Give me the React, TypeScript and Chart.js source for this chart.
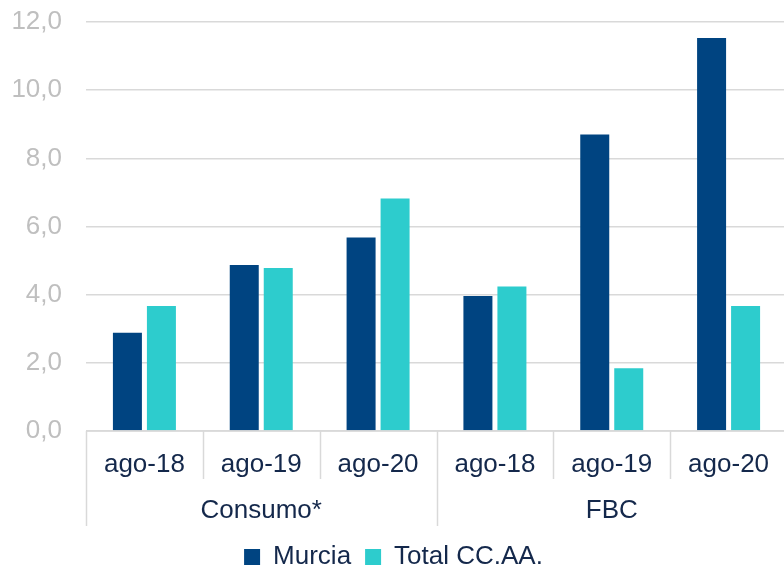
import React, { useEffect, useRef } from "react";
import { Chart, registerables } from "chart.js";

Chart.register(...registerables);

const categories = ["ago-18", "ago-19", "ago-20", "ago-18", "ago-19", "ago-20"];
const groups = ["Consumo*", "FBC"];
const groupSize = 3;
const murcia = [2.88, 4.87, 5.68, 3.96, 8.7, 11.53];
const totalCCAA = [3.67, 4.78, 6.82, 4.24, 1.84, 3.67];
const yTicks = [0, 2, 4, 6, 8, 10, 12];

const FONT = "'Liberation Sans', Arial, sans-serif";
const NAVY = "#14284b";
const GRID = "#d9d9d9";

const groupPlugin = {
  id: "groupAxis",
  afterDatasetsDraw(chart: any) {
    const { ctx, chartArea, scales } = chart;
    const x = scales.x;
    const y = scales.y;
    ctx.save();
    ctx.strokeStyle = GRID;
    ctx.lineWidth = 1.5;
    const y0 = y.getPixelForValue(0);
    ctx.beginPath();
    ctx.moveTo(chartArea.left, y0);
    ctx.lineTo(chartArea.right, y0);
    ctx.stroke();

    const step = x.getPixelForValue(1) - x.getPixelForValue(0);
    const start = x.getPixelForValue(0) - step / 2;
    for (let k = 0; k <= categories.length; k++) {
      const px = Math.round(start + k * step) + 0.5;
      const long = k % groupSize === 0;
      ctx.beginPath();
      ctx.moveTo(px, y0);
      ctx.lineTo(px, y0 + (long ? 95 : 48));
      ctx.stroke();
    }

    ctx.fillStyle = NAVY;
    ctx.font = `26px ${FONT}`;
    ctx.textAlign = "center";
    ctx.textBaseline = "middle";
    groups.forEach((g, i) => {
      const cx = start + (i * groupSize + groupSize / 2) * step;
      ctx.fillText(g, cx, y0 + 80);
    });
    ctx.restore();
  },
};

export default function App() {
  const ref = useRef<HTMLCanvasElement | null>(null);

  useEffect(() => {
    if (!ref.current) return;
    const chart = new Chart(ref.current, {
      type: "bar",
      data: {
        labels: categories,
        datasets: [
          {
            label: "Murcia",
            data: murcia,
            backgroundColor: "#004481",
            categoryPercentage: 0.582,
            barPercentage: 0.853,
          },
          {
            label: "Total CC.AA.",
            data: totalCCAA,
            backgroundColor: "#2dcccd",
            categoryPercentage: 0.582,
            barPercentage: 0.853,
          },
        ],
      },
      options: {
        animation: false,
        responsive: false,
        maintainAspectRatio: false,
        layout: { padding: { top: 22, right: 3, left: 0, bottom: -12 } },
        plugins: {
          tooltip: { enabled: false },
          legend: {
            position: "bottom",
            labels: {
              boxWidth: 16,
              boxHeight: 16,
              padding: 14,
              color: NAVY,
              font: { family: FONT, size: 26 },
            },
          },
        },
        scales: {
          x: {
            grid: { display: false, drawTicks: false },
            border: { display: false },
            ticks: {
              color: NAVY,
              font: { family: FONT, size: 26 },
              padding: 18,
              maxRotation: 0,
              autoSkip: false,
            },
            afterFit(scale: any) {
              scale.height = 99;
            },
          },
          y: {
            min: 0,
            max: 12,
            afterBuildTicks(scale: any) {
              scale.ticks = yTicks.map((v) => ({ value: v }));
            },
            grid: {
              color: GRID,
              lineWidth: 1.5,
              drawTicks: true,
              tickLength: 24,
              tickColor: "rgba(0,0,0,0)",
            },
            border: { display: false },
            ticks: {
              color: "#bfbfbf",
              font: { family: FONT, size: 26 },
              padding: 0,
              callback: (v: any) => Number(v).toFixed(1).replace(".", ","),
            },
            afterFit(scale: any) {
              scale.width = 86;
            },
          },
        },
      },
      plugins: [groupPlugin],
    });
    return () => chart.destroy();
  }, []);

  return (
    <div style={{ position: "absolute", left: 0, top: 0, width: 784, height: 568, overflow: "hidden", background: "#fff" }}>
      <canvas ref={ref} width={790} height={568} style={{ display: "block" }} />
    </div>
  );
}
